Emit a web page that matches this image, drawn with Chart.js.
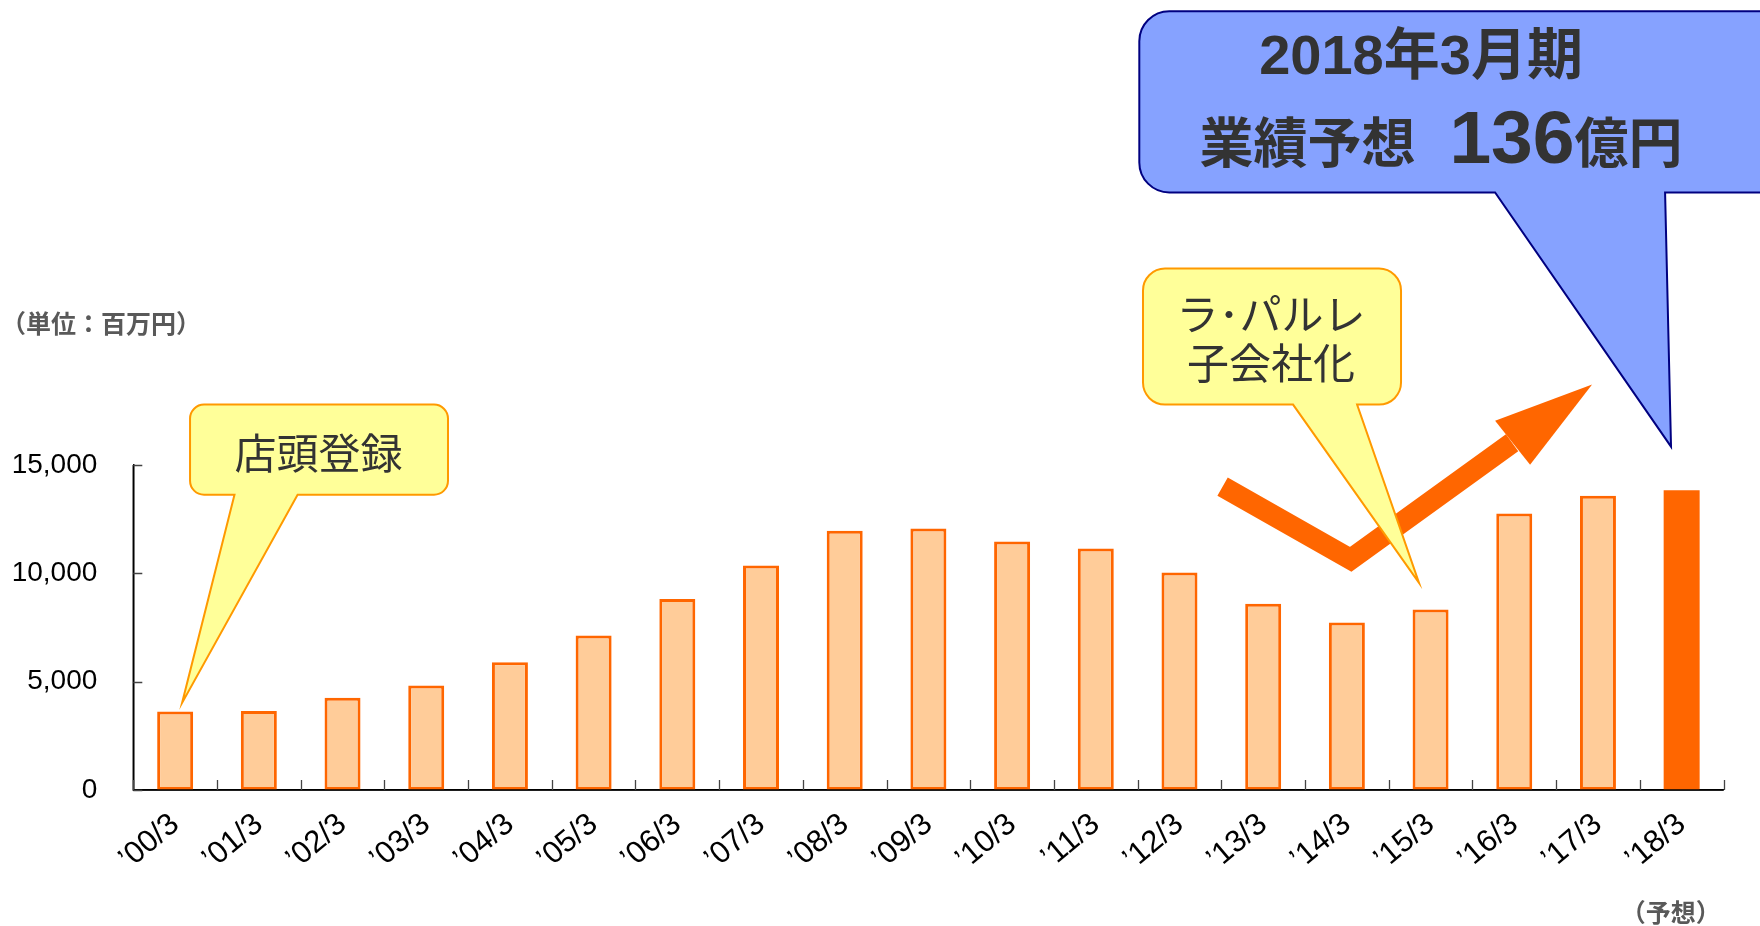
<!DOCTYPE html>
<html><head><meta charset="utf-8">
<script src="https://cdn.jsdelivr.net/npm/chart.js@4/dist/chart.umd.min.js"></script>
<style>html,body{margin:0;padding:0;background:#fff;overflow:hidden}canvas{display:block}</style>
</head><body>
<canvas id="c" width="1760" height="926"></canvas>
<script>
// ---- data ----
const categories = ["’00/3","’01/3","’02/3","’03/3","’04/3","’05/3","’06/3","’07/3","’08/3","’09/3","’10/3","’11/3","’12/3","’13/3","’14/3","’15/3","’16/3","’17/3","’18/3"];
const sales = [3620, 3650, 4260, 4820, 5900, 7130, 8820, 10360, 11960, 12070, 11470, 11150, 10040, 8600, 7730, 8330, 12760, 13580, 13830];
const forecastIndex = 18;
const yTicks = [0, 5000, 10000, 15000];
const unitLabel = "（単位：百万円）";
const forecastLabel = "（予想）";

// annotations in data space: x = category index (fractional), y = value
const callout1 = { text: ["店頭登録"], x0: 0.178, x1: 3.26, yTop: 17787, yBot: 13629, tail: [0.709, 1.463], tip: [0.083, 4019], textX: 1.714, textY: [15546] };
const callout2 = { text: ["ラ･パルレ", "子会社化"], x0: 11.564, x1: 14.647, yTop: 24070, yBot: 17787, tail: [13.357, 14.122], tip: [14.862, 9563], textX: 13.094, textY: [21950, 19700] };
const trendArrow = { path: [[12.515, 13999], [14.046, 10649], [15.974, 16031]], head: [[16.93, 18711], [15.771, 17048], [16.189, 15015]] };
const bigCallout = { line1: "2018年3月期", line2a: "業績予想", line2b: "136", line2c: "億円", x0: 11.52, x1: 19.3, yTop: 35944, yBot: 27581, tail: [15.771, 17.802], tip: [17.873, 15847], line1X: 14.886, line1Y: 33772, line2Left: 12.238, line2Y: 28921 };

const CJK = '"Noto Sans CJK JP", sans-serif';
const LAT = '"Liberation Sans", Arial, sans-serif';

function calloutPath(ctx, x0, y0, x1, y1, r, b1, b2, tx, ty) {
  ctx.beginPath();
  ctx.moveTo(x0 + r, y0);
  ctx.lineTo(x1 - r, y0);
  ctx.arcTo(x1, y0, x1, y0 + r, r);
  ctx.lineTo(x1, y1 - r);
  ctx.arcTo(x1, y1, x1 - r, y1, r);
  ctx.lineTo(b2, y1);
  ctx.lineTo(tx, ty);
  ctx.lineTo(b1, y1);
  ctx.lineTo(x0 + r, y1);
  ctx.arcTo(x0, y1, x0, y1 - r, r);
  ctx.lineTo(x0, y0 + r);
  ctx.arcTo(x0, y0, x0 + r, y0, r);
  ctx.closePath();
}

const decorations = {
  id: 'decorations',
  afterDatasetsDraw(chart) {
    const ctx = chart.ctx;
    const xs = chart.scales.x, ys = chart.scales.y;
    const X = v => xs.getPixelForValue(v);
    const Y = v => ys.getPixelForValue(v);
    const area = chart.chartArea;
    ctx.save();

    // axis lines redrawn on top of bars
    ctx.strokeStyle = '#000';
    ctx.lineWidth = 1.5;
    ctx.beginPath();
    ctx.moveTo(area.left, Y(yTicks[yTicks.length - 1]));
    ctx.lineTo(area.left, area.bottom);
    ctx.lineTo(area.right, area.bottom);
    ctx.stroke();

    // inward tick marks
    ctx.strokeStyle = '#444';
    ctx.lineWidth = 1.3;
    ctx.beginPath();
    yTicks.forEach(v => { const y = Math.round(Y(v)) + 0.5; ctx.moveTo(area.left, y); ctx.lineTo(area.left + 9, y); });
    for (let i = 0; i <= categories.length; i++) {
      const x = Math.round(X(i - 0.5)) + 0.5;
      ctx.moveTo(x, area.bottom); ctx.lineTo(x, area.bottom - 10);
    }
    ctx.stroke();

    // trend arrow
    ctx.strokeStyle = '#FF6600';
    ctx.fillStyle = '#FF6600';
    ctx.lineWidth = 21;
    ctx.lineJoin = 'miter';
    ctx.lineCap = 'butt';
    ctx.beginPath();
    trendArrow.path.forEach((p, i) => { const px = X(p[0]), py = Y(p[1]); if (i) ctx.lineTo(px, py); else ctx.moveTo(px, py); });
    ctx.stroke();
    ctx.beginPath();
    trendArrow.head.forEach((p, i) => { const px = X(p[0]), py = Y(p[1]); if (i) ctx.lineTo(px, py); else ctx.moveTo(px, py); });
    ctx.closePath();
    ctx.fill();

    // yellow callouts
    [[callout1, 14], [callout2, 22]].forEach(([c, r]) => {
      calloutPath(ctx, X(c.x0), Y(c.yTop), X(c.x1), Y(c.yBot), r, X(c.tail[0]), X(c.tail[1]), X(c.tip[0]), Y(c.tip[1]));
      ctx.fillStyle = '#FFFF99';
      ctx.fill();
      ctx.strokeStyle = '#FF9900';
      ctx.lineWidth = 2;
      ctx.lineJoin = 'miter';
      ctx.stroke();
      ctx.fillStyle = '#333333';
      ctx.font = '42px ' + CJK;
      ctx.textAlign = 'center';
      ctx.textBaseline = 'middle';
      c.text.forEach((t, i) => ctx.fillText(t, X(c.textX), Y(c.textY[i])));
    });

    // blue callout
    const b = bigCallout;
    calloutPath(ctx, X(b.x0), Y(b.yTop), X(b.x1), Y(b.yBot), 30, X(b.tail[0]), X(b.tail[1]), X(b.tip[0]), Y(b.tip[1]));
    ctx.fillStyle = '#86A2FF';
    ctx.fill();
    ctx.strokeStyle = '#000080';
    ctx.lineWidth = 2;
    ctx.stroke();
    ctx.fillStyle = '#333333';
    ctx.textAlign = 'center';
    ctx.textBaseline = 'middle';
    ctx.font = 'bold 56px "Liberation Sans", ' + CJK;
    ctx.fillText(b.line1, X(b.line1X), Y(b.line1Y));
    ctx.textAlign = 'left';
    ctx.textBaseline = 'alphabetic';
    let lx = X(b.line2Left);
    const ly = Y(b.line2Y);
    ctx.font = 'bold 54px ' + CJK;
    ctx.fillText(b.line2a, lx, ly);
    lx += ctx.measureText(b.line2a).width + 34;
    ctx.font = 'bold 75px ' + LAT;
    ctx.fillText(b.line2b, lx, ly);
    lx += ctx.measureText(b.line2b).width;
    ctx.font = 'bold 54px ' + CJK;
    ctx.fillText(b.line2c, lx, ly);

    // unit labels
    ctx.fillStyle = '#595959';
    ctx.font = 'bold 25px ' + CJK;
    ctx.textAlign = 'left';
    ctx.textBaseline = 'middle';
    ctx.fillText(unitLabel, 1, 323);
    ctx.textAlign = 'center';
    ctx.fillText(forecastLabel, X(forecastIndex) - 11, 912);
    ctx.restore();
  }
};

new Chart(document.getElementById('c'), {
  type: 'bar',
  data: {
    labels: categories,
    datasets: [{
      data: sales,
      backgroundColor: sales.map((_, i) => i === forecastIndex ? '#FF6600' : '#FFCC99'),
      borderColor: '#FF6600',
      borderWidth: sales.map((_, i) => i === forecastIndex ? 0 : 3),
      borderSkipped: false,
      barPercentage: 0.43,
      categoryPercentage: 1.0
    }]
  },
  options: {
    responsive: false,
    devicePixelRatio: 1,
    animation: false,
    layout: { padding: { top: 465, right: 36.5, bottom: 0, left: 0 } },
    plugins: { legend: { display: false }, tooltip: { enabled: false }, title: { display: false } },
    scales: {
      x: {
        type: 'category',
        offset: true,
        grid: { display: false, drawTicks: false },
        border: { display: true, color: '#000', width: 1.5 },
        ticks: { autoSkip: false, minRotation: 40, maxRotation: 40, padding: 16, color: '#000', font: { family: LAT, size: 31 } },
        afterFit: s => { s.height = 136; }
      },
      y: {
        min: 0, max: 15000,
        grid: { display: false, drawTicks: false },
        border: { display: true, color: '#000', width: 1.5 },
        afterBuildTicks: s => { s.ticks = yTicks.map(v => ({ value: v })); },
        ticks: { padding: 36, color: '#000', font: { family: LAT, size: 28 }, callback: v => v.toLocaleString('en-US') },
        afterFit: s => { s.width = 133.3; }
      }
    }
  },
  plugins: [decorations]
});
</script>
</body></html>
